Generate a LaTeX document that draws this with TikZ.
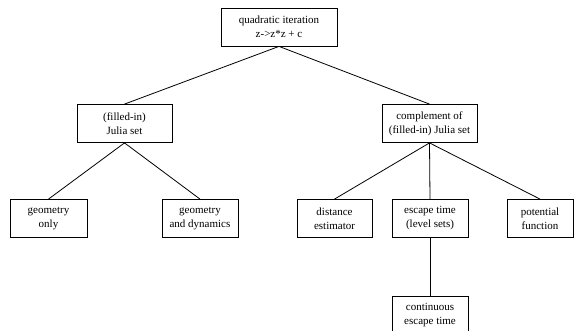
\documentclass[tikz,border=0pt]{standalone}
\usepackage{fontspec}
\setmainfont{Liberation Serif}
\usepackage{tikz}

\tikzset{
	itbox/.style={draw, line width=0.8pt, align=center, inner sep=0pt, minimum height=38pt, font=\fontsize{11}{14}\selectfont},
	itline/.style={line width=0.8pt}
}

\begin{document}
\begin{tikzpicture}[x=1pt,y=-1pt]
			% Fix the frame (the last box runs off the bottom)
			\clip (0,0) rectangle (577,331);
			
			% Draw root
			\node[itbox, minimum width=116pt] (quad) at (279,27) {quadratic iteration\\z->z*z + c};
			
			% Draw second level
			\node[itbox, minimum width=95pt] (julia) at (124.5,123.5) {(filled-in)\\Julia set};
			\node[itbox, minimum width=95pt] (compl) at (429.5,123.5) {complement of\\(filled-in) Julia set};
			
			% Draw leaves under Julia set
			\node[itbox, minimum width=77pt] (geom) at (48.5,218.5) {geometry\\only};
			\node[itbox, minimum width=76pt] (geomdyn) at (200,218.5) {geometry\\and dynamics};
			
			% Draw leaves under complement
			\node[itbox, minimum width=75pt] (dist) at (334.5,218.5) {distance\\estimator};
			\node[itbox, minimum width=76pt] (escape) at (430,218.5) {escape time\\(level sets)};
			\node[itbox, minimum width=66pt] (pot) at (540,218.5) {potential\\function};
			\node[itbox, minimum width=76pt] (cont) at (430,315) {continuous\\escape time};
			
			% Draw tree lines
			\draw[itline] (quad.south) -- (julia.north) (quad.south) -- (compl.north);
			\draw[itline] (julia.south) -- (geom.north) (julia.south) -- (geomdyn.north);
			\draw[itline] (compl.south) -- (dist.north) (compl.south) -- (escape.north) (compl.south) -- (pot.north);
			\draw[itline] (escape.south) -- (cont.north);
		\end{tikzpicture}
\end{document}
